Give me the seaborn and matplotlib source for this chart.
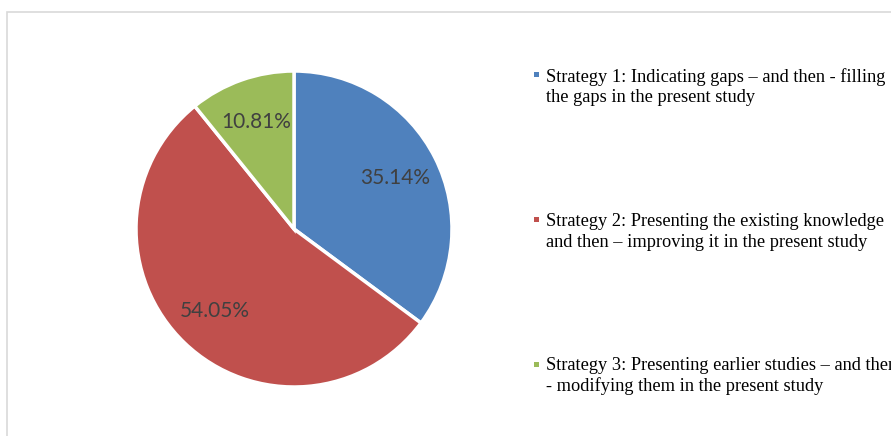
import matplotlib
matplotlib.use("Agg")
import matplotlib.pyplot as plt
import seaborn as sns
from matplotlib.patches import Rectangle

sns.set_theme(style="white")

categories = [
    "Strategy 1: Indicating gaps \u2013 and then - filling\nthe gaps in the present study",
    "Strategy 2: Presenting the existing knowledge\nand then \u2013 improving it in the present study",
    "Strategy 3: Presenting earlier studies \u2013 and then\n- modifying them in the present study",
]
values = [35.14, 54.05, 10.81]
value_labels = ["35.14%", "54.05%", "10.81%"]
colors = ["#4f81bd", "#c0504d", "#9bbb59"]

W, H = 891, 436
fig = plt.figure(figsize=(W / 100, H / 100), dpi=100)
fig.patch.set_facecolor("white")

# chart border
fig.patches.append(Rectangle((7 / W, -0.1), 1.2, 1 - 12 / H + 0.1, transform=fig.transFigure,
                             fill=False, edgecolor="#d9d9d9", linewidth=1.2))

cx, cy, r = 294, 229, 158
ax = fig.add_axes([(cx - r) / W, (H - cy - r) / H, 2 * r / W, 2 * r / H])
wedges, texts, autotexts = ax.pie(
    values, colors=colors, startangle=90, counterclock=False,
    autopct=lambda p: "", pctdistance=0.72,
    wedgeprops=dict(edgecolor="white", linewidth=2.5),
)
for t, lab in zip(autotexts, value_labels):
    t.set_text(lab)
    t.set_color("#404040")
    t.set_fontsize(15)
    t.set_fontfamily("Lato")
ax.set_xlim(-1, 1)
ax.set_ylim(-1, 1)
ax.set_aspect("equal")
ax.axis("off")

# legend
ys = [75, 220, 364]
for cat, col, y in zip(categories, colors, ys):
    fig.patches.append(Rectangle((534 / W, 1 - (y + 2.5) / H), 5 / W, 5 / H,
                                 transform=fig.transFigure, facecolor=col, edgecolor="none"))
    fig.text(546 / W, 1 - (y + 12) / H, cat, ha="left", va="center", fontsize=13.2,
             family="Liberation Serif", color="black", linespacing=1.25)

fig.savefig("out.png", dpi=100, facecolor="white")
